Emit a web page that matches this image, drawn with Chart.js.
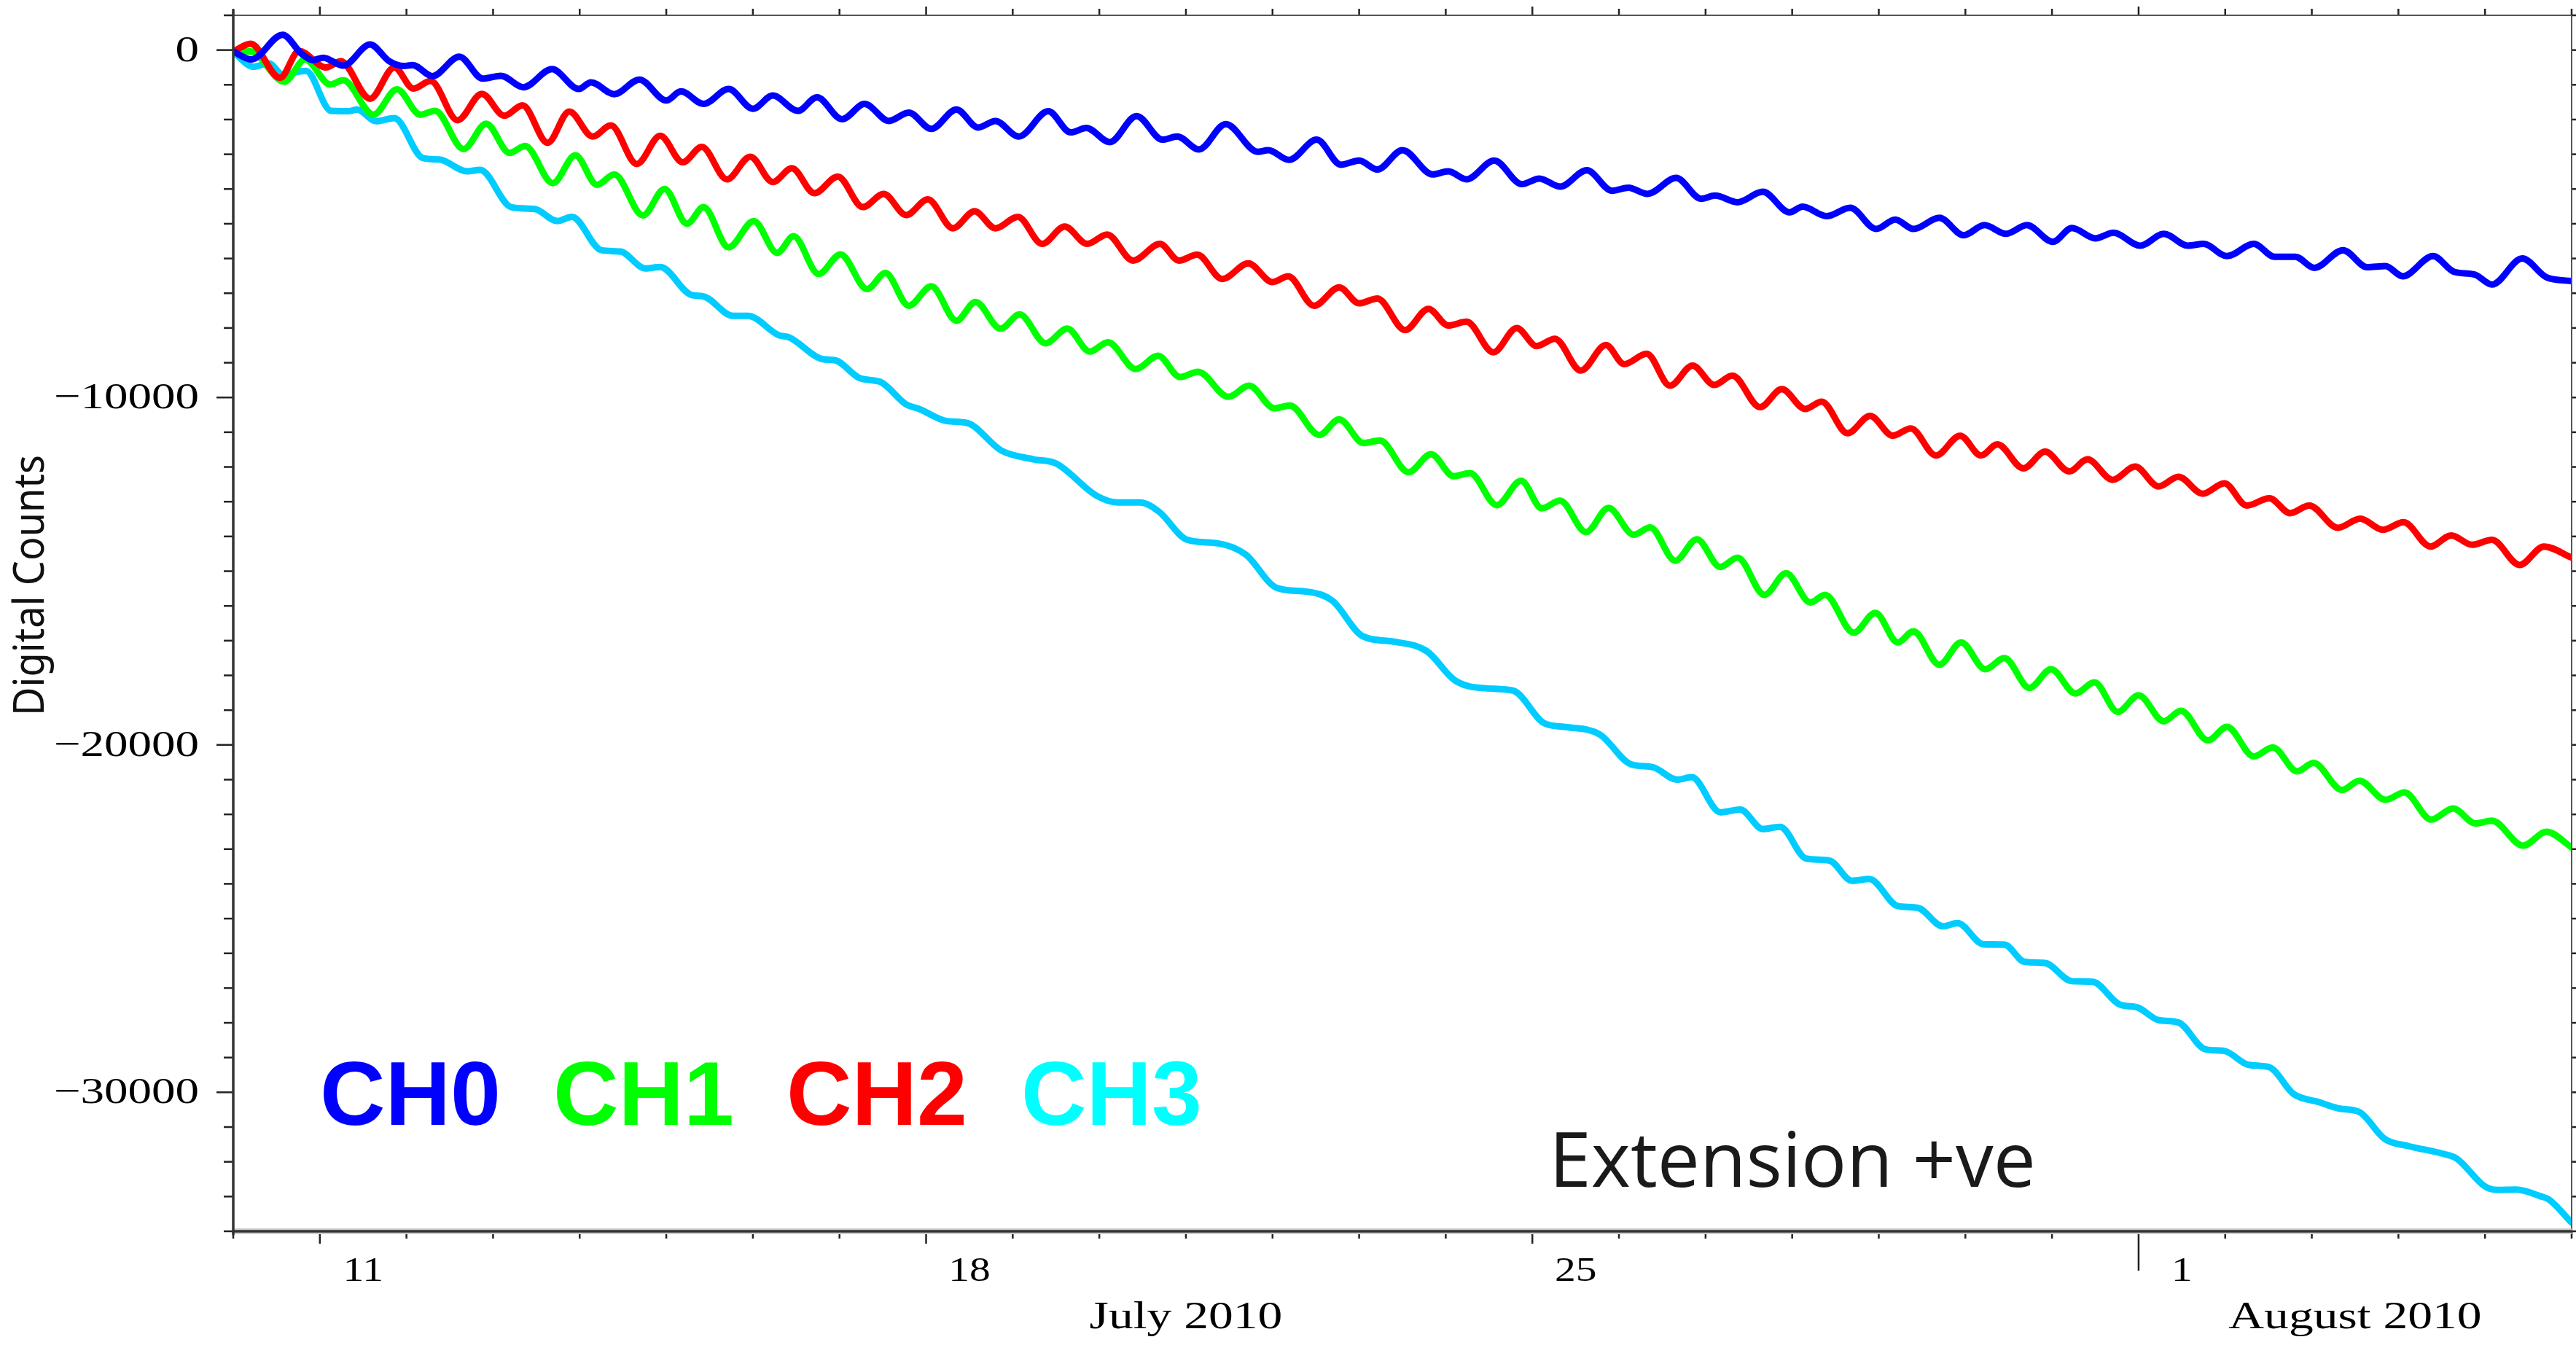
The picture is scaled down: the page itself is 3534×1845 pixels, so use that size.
<!DOCTYPE html>
<html>
<head>
<meta charset="utf-8">
<script src="https://cdn.jsdelivr.net/npm/chart.js@4.4.1/dist/chart.umd.min.js"></script>
<style>
  html, body { margin: 0; padding: 0; background: #fff; }
  #wrap { width: 3534px; height: 1845px; }
</style>
</head>
<body>
<div id="wrap"><canvas id="strain" width="3534" height="1845"></canvas></div>
<script>
// [days after 10 July 2010 00:00, digital counts] at extrema
const ch0 = [[0,-40],[0.21,-270],[0.57,440],[0.79,-110],[0.92,-290],[1.04,-220],[1.27,-450],[1.58,160],[1.80,-320],[1.97,-460],[2.07,-430],[2.30,-750],[2.61,-190],[2.88,-820],[3.09,-740],[3.35,-1070],[3.68,-550],[3.99,-1120],[4.13,-930],[4.40,-1270],[4.69,-850],[5.00,-1450],[5.17,-1190],[5.43,-1550],[5.72,-1120],[6.00,-1690],[6.23,-1310],[6.52,-1750],[6.74,-1360],[7.03,-1990],[7.29,-1550],[7.57,-2040],[7.80,-1800],[8.06,-2270],[8.35,-1710],[8.60,-2230],[8.80,-2040],[9.07,-2490],[9.41,-1760],[9.67,-2370],[9.85,-2240],[10.12,-2650],[10.43,-1900],[10.73,-2580],[10.90,-2490],[11.15,-2860],[11.46,-2130],[11.83,-2930],[11.95,-2880],[12.19,-3160],[12.51,-2580],[12.79,-3300],[13.00,-3180],[13.21,-3440],[13.50,-2880],[13.85,-3580],[14.03,-3490],[14.24,-3720],[14.56,-3180],[14.88,-3860],[15.08,-3700],[15.32,-3930],[15.63,-3460],[15.92,-4050],[16.11,-3960],[16.33,-4140],[16.66,-3680],[16.95,-4280],[17.11,-4190],[17.37,-4380],[17.66,-4080],[17.97,-4670],[18.12,-4510],[18.40,-4780],[18.67,-4540],[18.97,-5150],[19.19,-4880],[19.40,-5150],[19.70,-4830],[19.98,-5330],[20.22,-5040],[20.47,-5290],[20.71,-5040],[21.01,-5520],[21.23,-5120],[21.50,-5420],[21.71,-5260],[22.02,-5630],[22.29,-5290],[22.57,-5630],[22.75,-5580],[23.02,-5930],[23.33,-5580],[23.57,-5950],[23.81,-5950],[24.03,-6270],[24.36,-5760],[24.64,-6250],[24.85,-6220],[25.05,-6510],[25.40,-5930],[25.64,-6380],[25.88,-6460],[26.08,-6750],[26.43,-6000],[26.71,-6540],[27.00,-6650]];

const ch1 = [[0,-50],[0.20,-40],[0.59,-910],[0.83,-270],[1.12,-990],[1.27,-870],[1.62,-1860],[1.89,-1130],[2.16,-1860],[2.33,-1750],[2.66,-2850],[2.92,-2120],[3.19,-2960],[3.37,-2760],[3.69,-3830],[3.95,-3030],[4.20,-3880],[4.40,-3580],[4.73,-4760],[4.98,-4000],[5.24,-5000],[5.43,-4520],[5.72,-5680],[6.01,-4920],[6.28,-5840],[6.47,-5360],[6.76,-6445],[7.01,-5880],[7.32,-6880],[7.53,-6420],[7.80,-7360],[8.06,-6800],[8.35,-7790],[8.57,-7250],[8.86,-8020],[9.08,-7610],[9.38,-8440],[9.63,-8020],[9.89,-8680],[10.10,-8410],[10.42,-9180],[10.68,-8800],[10.93,-9410],[11.14,-9260],[11.49,-9980],[11.73,-9660],[12.02,-10310],[12.20,-10230],[12.54,-11080],[12.77,-10630],[13.05,-11310],[13.24,-11240],[13.57,-12150],[13.83,-11630],[14.09,-12265],[14.28,-12180],[14.59,-13100],[14.87,-12400],[15.11,-13190],[15.32,-12970],[15.62,-13875],[15.88,-13180],[16.17,-13950],[16.36,-13740],[16.65,-14700],[16.90,-14080],[17.17,-14880],[17.37,-14610],[17.68,-15680],[17.93,-15060],[18.21,-15900],[18.38,-15680],[18.71,-16770],[18.96,-16200],[19.22,-17050],[19.40,-16730],[19.70,-17690],[19.95,-17050],[20.23,-17820],[20.45,-17500],[20.74,-18360],[20.99,-17820],[21.27,-18520],[21.49,-18200],[21.76,-19050],[22.00,-18570],[22.29,-19320],[22.49,-19020],[22.80,-19870],[23.02,-19480],[23.33,-20330],[23.55,-20070],[23.83,-20760],[24.02,-20520],[24.35,-21300],[24.55,-21030],[24.85,-21580],[25.07,-21370],[25.38,-22150],[25.63,-21830],[25.89,-22260],[26.08,-22180],[26.44,-22900],[26.71,-22500],[27.00,-22950]];

const ch2 = [[0,-40],[0.20,180],[0.54,-800],[0.76,-30],[1.07,-500],[1.24,-320],[1.58,-1400],[1.86,-500],[2.08,-1110],[2.28,-890],[2.59,-2020],[2.87,-1260],[3.13,-1890],[3.34,-1590],[3.63,-2670],[3.88,-1770],[4.15,-2490],[4.36,-2170],[4.66,-3280],[4.93,-2470],[5.19,-3230],[5.41,-2790],[5.70,-3720],[5.97,-3070],[6.23,-3800],[6.45,-3400],[6.71,-4120],[6.98,-3640],[7.27,-4520],[7.51,-4140],[7.77,-4750],[8.02,-4300],[8.31,-5130],[8.56,-4640],[8.80,-5130],[9.06,-4800],[9.34,-5580],[9.60,-5080],[9.86,-5580],[10.09,-5310],[10.39,-6060],[10.70,-5580],[10.92,-6060],[11.13,-5890],[11.42,-6590],[11.72,-6140],[12.00,-6680],[12.18,-6510],[12.48,-7360],[12.77,-6830],[13.00,-7290],[13.21,-7150],[13.53,-8060],[13.80,-7450],[14.03,-7930],[14.24,-7820],[14.55,-8700],[14.82,-8000],[15.05,-8520],[15.26,-8310],[15.56,-9225],[15.85,-8490],[16.06,-9040],[16.32,-8740],[16.59,-9660],[16.85,-9080],[17.10,-9640],[17.31,-9370],[17.63,-10280],[17.88,-9760],[18.15,-10330],[18.34,-10120],[18.64,-11030],[18.90,-10530],[19.16,-11100],[19.37,-10890],[19.66,-11670],[19.94,-11100],[20.18,-11670],[20.37,-11350],[20.67,-12040],[20.92,-11560],[21.20,-12130],[21.41,-11780],[21.70,-12370],[21.96,-11990],[22.23,-12560],[22.46,-12280],[22.74,-12770],[22.99,-12470],[23.25,-13110],[23.51,-12900],[23.75,-13330],[23.97,-13110],[24.30,-13750],[24.56,-13490],[24.82,-13810],[25.06,-13590],[25.37,-14290],[25.61,-13970],[25.85,-14240],[26.08,-14100],[26.40,-14820],[26.68,-14290],[27.00,-14610]];

const ch3 = [[0,-50],[0.23,-480],[0.41,-380],[0.57,-700],[0.84,-600],[1.13,-1750],[1.34,-1760],[1.43,-1710],[1.65,-2050],[1.86,-1960],[2.19,-3110],[2.38,-3150],[2.70,-3490],[2.85,-3450],[3.21,-4520],[3.48,-4575],[3.74,-4920],[3.91,-4800],[4.25,-5760],[4.47,-5800],[4.76,-6285],[4.93,-6245],[5.29,-7050],[5.43,-7090],[5.77,-7650],[5.94,-7650],[6.30,-8210],[6.42,-8270],[6.81,-8900],[6.95,-8930],[7.24,-9450],[7.47,-9550],[7.77,-10200],[7.92,-10330],[8.24,-10680],[8.47,-10730],[8.87,-11530],[9.24,-11780],[9.50,-11900],[9.97,-12830],[10.21,-13020],[10.47,-13020],[10.69,-13290],[11.01,-14090],[11.37,-14200],[11.69,-14520],[12.05,-15480],[12.40,-15590],[12.69,-15850],[13.04,-16870],[13.40,-17030],[13.78,-17300],[14.11,-18150],[14.46,-18370],[14.78,-18440],[15.14,-19380],[15.40,-19490],[15.78,-19700],[16.14,-20560],[16.39,-20640],[16.67,-21000],[16.84,-20930],[17.17,-21940],[17.40,-21860],[17.66,-22420],[17.86,-22360],[18.16,-23270],[18.43,-23330],[18.69,-23910],[18.89,-23860],[19.22,-24640],[19.45,-24690],[19.74,-25220],[19.91,-25130],[20.21,-25740],[20.45,-25750],[20.68,-26240],[20.92,-26280],[21.23,-26800],[21.47,-26820],[21.78,-27470],[21.99,-27560],[22.23,-27920],[22.46,-27990],[22.77,-28760],[22.99,-28810],[23.27,-29210],[23.51,-29280],[23.79,-30050],[24.08,-30280],[24.32,-30470],[24.55,-30570],[24.84,-31340],[25.12,-31550],[25.50,-31760],[25.67,-31900],[26.00,-32710],[26.14,-32810],[26.36,-32800],[26.64,-32990],[26.74,-33090],[27.00,-33750]];

const channelNames = ['CH0', 'CH1', 'CH2', 'CH3'];
const yTickValues = [0, -10000, -20000, -30000];
const yTickLabels = ['0', '\u221210000', '\u221220000', '\u221230000'];
const dayTickValues = [1, 8, 15, 22];          // 11 Jul, 18 Jul, 25 Jul, 1 Aug
const dayTickLabels = ['11', '18', '25', '1'];
const monthCentres = [11, 24.5];
const monthLabels = ['July 2010', 'August 2010'];
const yTitle = 'Digital Counts';
const note = 'Extension +ve';

const toPoints = rows => rows.map(([d, c]) => ({ x: d, y: c }));

function line(ctx, x1, y1, x2, y2) {
  ctx.beginPath(); ctx.moveTo(x1, y1); ctx.lineTo(x2, y2); ctx.stroke();
}

// draw text squeezed/stretched horizontally by sx
function wideText(ctx, text, x, y, sx, align) {
  ctx.save();
  ctx.translate(x, y);
  ctx.scale(sx, 1);
  ctx.textAlign = align;
  ctx.fillText(text, 0, 0);
  ctx.restore();
}

const frame = {
  id: 'frame',
  afterDraw(chart) {
    const { ctx, chartArea: a, scales: { x, y } } = chart;
    ctx.save();

    // tick marks
    ctx.strokeStyle = '#222';
    ctx.lineWidth = 2.5;
    for (let d = 0; d <= 27; d++) {
      const px = x.getPixelForValue(d);
      const major = dayTickValues.includes(d);
      let len = major ? 17 : 10;
      if (d === 22) len = 54;
      line(ctx, px, a.bottom, px, a.bottom + len);
      line(ctx, px, a.top, px, a.top - (major ? 12 : 9));
    }
    for (let v = -34000; v <= 1000; v += 1000) {
      const py = y.getPixelForValue(v);
      const major = v % 10000 === 0;
      line(ctx, a.left, py, a.left - (major ? 23 : 13), py);
      line(ctx, a.right, py, a.right + 12, py);
    }

    // frame
    ctx.strokeStyle = '#555';
    ctx.lineWidth = 2;
    line(ctx, a.left, a.top, a.right, a.top);
    line(ctx, a.right, a.top, a.right, a.bottom);
    ctx.strokeStyle = '#ccc';
    ctx.lineWidth = 8;
    line(ctx, a.left, a.bottom, a.right, a.bottom);
    ctx.strokeStyle = '#333';
    ctx.lineWidth = 3.5;
    line(ctx, a.left - 2, a.bottom, a.right, a.bottom);
    line(ctx, a.left, a.top - 8, a.left, a.bottom + 5);

    // y tick labels
    ctx.fillStyle = '#000';
    ctx.font = '50px "Liberation Serif", "DejaVu Serif", serif';
    ctx.textBaseline = 'middle';
    yTickValues.forEach((v, i) => {
      wideText(ctx, yTickLabels[i], 273, y.getPixelForValue(v) + 2, 1.3, 'right');
    });

    // day labels, centred on the day they name
    ctx.textBaseline = 'alphabetic';
    ctx.font = '46px "Liberation Serif", "DejaVu Serif", serif';
    dayTickValues.forEach((d, i) => {
      wideText(ctx, dayTickLabels[i], x.getPixelForValue(d + 0.5), a.bottom + 68, 1.25, 'center');
    });
    ctx.font = '52px "Liberation Serif", "DejaVu Serif", serif';
    monthCentres.forEach((d, i) => {
      wideText(ctx, monthLabels[i], x.getPixelForValue(d), a.bottom + 133, 1.3, 'center');
    });

    // y title
    ctx.font = '59px "Noto Sans", "Open Sans", sans-serif';
    const tw = ctx.measureText(yTitle).width;
    ctx.save();
    ctx.translate(60, 803);
    ctx.rotate(-Math.PI / 2);
    ctx.scale(358 / tw, 1);
    ctx.textAlign = 'center';
    ctx.fillStyle = '#111';
    ctx.fillText(yTitle, 0, 0);
    ctx.restore();

    // channel key
    const keyColours = ['#0000ff', '#00ff00', '#ff0000', '#00ffff'];
    const keyLeft = [444, 764, 1084, 1406];
    ctx.font = '700 124px "Liberation Sans", Arial, sans-serif';
    ctx.textAlign = 'left';
    channelNames.forEach((n, i) => {
      ctx.fillStyle = keyColours[i];
      const m = ctx.measureText(n);
      ctx.fillText(n, keyLeft[i] + m.actualBoundingBoxLeft, 1543);
    });

    // note
    ctx.font = '105px "Open Sans", "Noto Sans", sans-serif';
    const nm = ctx.measureText(note);
    const nw = nm.actualBoundingBoxLeft + nm.actualBoundingBoxRight;
    ctx.fillStyle = '#1a1a1a';
    ctx.save();
    ctx.translate(2135, 1628);
    ctx.scale(653 / nw, 1);
    ctx.textAlign = 'left';
    ctx.fillText(note, nm.actualBoundingBoxLeft, 0);
    ctx.restore();

    ctx.restore();
  }
};

const series = [
  { name: channelNames[0], rows: ch0, colour: '#0000ff', order: 0 },
  { name: channelNames[1], rows: ch1, colour: '#00ff00', order: 2 },
  { name: channelNames[2], rows: ch2, colour: '#ff0000', order: 1 },
  { name: channelNames[3], rows: ch3, colour: '#00ccff', order: 3 }
];

new Chart(document.getElementById('strain').getContext('2d'), {
  type: 'line',
  data: {
    datasets: series.map(s => ({
      label: s.name,
      data: toPoints(s.rows),
      borderColor: s.colour,
      backgroundColor: s.colour,
      order: s.order,
      fill: false
    }))
  },
  options: {
    responsive: false,
    animation: false,
    layout: { padding: { left: 320, right: 6, top: 21, bottom: 156 } },
    elements: {
      point: { radius: 0 },
      line: { borderWidth: 9, cubicInterpolationMode: 'monotone', borderJoinStyle: 'round', borderCapStyle: 'round' }
    },
    plugins: { legend: { display: false }, tooltip: { enabled: false } },
    scales: {
      x: { type: 'linear', min: 0, max: 27, display: false },
      y: { type: 'linear', min: -34000, max: 1000, display: false }
    }
  },
  plugins: [frame]
});
</script>
</body>
</html>
